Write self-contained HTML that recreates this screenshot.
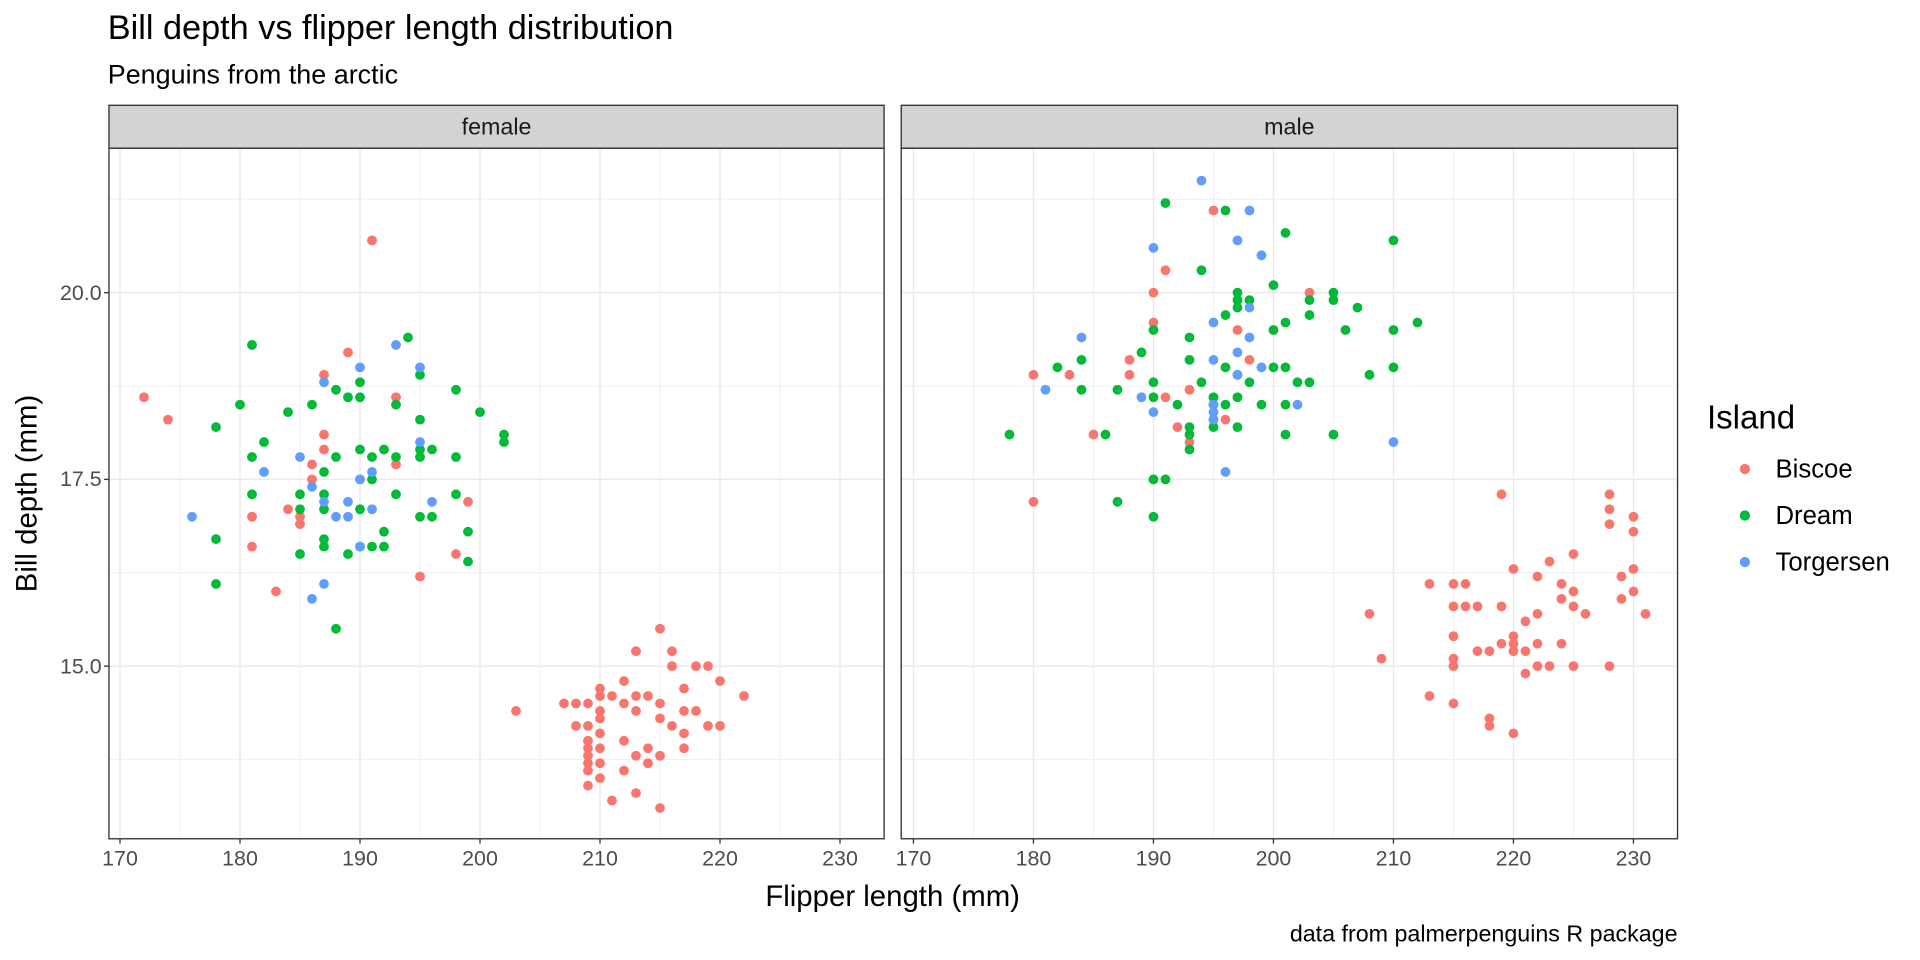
<!DOCTYPE html>
<html><head><meta charset="utf-8"><style>
html,body{margin:0;padding:0;background:#fff;}
svg{display:block;font-family:"Liberation Sans",Arial,sans-serif;}
</style></head><body>
<svg id="s" width="1920" height="960" viewBox="0 0 1568 784" xmlns="http://www.w3.org/2000/svg">
<rect width="1568" height="784" fill="#fff"/>
<text x="88" y="32" font-size="28" fill="#000">Bill depth vs flipper length distribution</text>
<text x="88" y="68" font-size="22" fill="#000">Penguins from the arctic</text>
<g id="g"></g>
<rect x="89" y="86" width="633" height="35" fill="#d3d3d3" stroke="#333" stroke-width="1.1"/>
<rect x="736" y="86" width="634" height="35" fill="#d3d3d3" stroke="#333" stroke-width="1.1"/>
<text x="405.5" y="110" font-size="19" fill="#1a1a1a" text-anchor="middle">female</text>
<text x="1053" y="110" font-size="19" fill="#1a1a1a" text-anchor="middle">male</text>
<g font-size="17.5" fill="#4d4d4d" text-anchor="end">
<text x="83" y="245">20.0</text><text x="83" y="397">17.5</text><text x="83" y="550">15.0</text>
</g>
<text x="729" y="740" font-size="24" fill="#000" text-anchor="middle">Flipper length (mm)</text>
<text transform="translate(30,403) rotate(-90)" font-size="24" fill="#000" text-anchor="middle">Bill depth (mm)</text>
<text x="1370" y="769" font-size="19" fill="#000" text-anchor="end">data from palmerpenguins R package</text>
<text x="1394" y="350" font-size="27" fill="#000">Island</text>
<circle cx="1425" cy="383" r="4.2" fill="#F8766D"/><text x="1450" y="390" font-size="21">Biscoe</text>
<circle cx="1425" cy="421" r="4.2" fill="#00BA38"/><text x="1450" y="428" font-size="21">Dream</text>
<circle cx="1425" cy="459" r="4.2" fill="#619CFF"/><text x="1450" y="466" font-size="21">Torgersen</text>
</svg>
<script>
var NS="http://www.w3.org/2000/svg",g=document.getElementById('g'),svg=document.getElementById('s');
function el(n,a,p){var e=document.createElementNS(NS,n);for(var k in a)e.setAttribute(k,a[k]);(p||g).appendChild(e);return e;}
var panels=[{x0:89,x1:722,o:98},{x0:736,x1:1370,o:746}];
var Y0=121,Y1=685;
function yy(v){return 239+(20-v)*61;}
panels.forEach(function(p){
 for(var v=175;v<=230;v+=10){var x=p.o+(v-170)*9.8;el('line',{x1:x,x2:x,y1:Y0,y2:Y1,stroke:'#ebebeb','stroke-width':0.6});}
 [21.25,18.75,16.25,13.75].forEach(function(v){el('line',{x1:p.x0,x2:p.x1,y1:yy(v),y2:yy(v),stroke:'#ebebeb','stroke-width':0.6});});
 for(var v=170;v<=230;v+=10){var x=p.o+(v-170)*9.8;el('line',{x1:x,x2:x,y1:Y0,y2:Y1,stroke:'#ebebeb','stroke-width':1.2});
  el('line',{x1:x,x2:x,y1:Y1,y2:Y1+4,stroke:'#333','stroke-width':1.1});
  var t=el('text',{x:x,y:Y1+22,'font-size':17.5,fill:'#4d4d4d','text-anchor':'middle'});t.textContent=v;}
 [20,17.5,15].forEach(function(v){el('line',{x1:p.x0,x2:p.x1,y1:yy(v),y2:yy(v),stroke:'#ebebeb','stroke-width':1.2});});
});
[20,17.5,15].forEach(function(v){el('line',{x1:85,x2:89,y1:yy(v),y2:yy(v),stroke:'#333','stroke-width':1.1});});
var C={b:'#F8766D',d:'#00BA38',t:'#619CFF'};
var F={b:[[172,18.6],[174,18.3],[181,17.0],[181,16.6],[183,16.0],[184,17.1],[185,16.9],[185,17.0],[186,17.5],[186,17.7],[187,18.9],[187,18.1],[187,17.9],[189,19.2],[190,17.5],[191,20.7],[193,18.6],[193,17.7],[195,16.2],[198,16.5],[199,17.2],[203,14.4],[207,14.5],[208,14.5],[209,14.5],[209,14.2],[210,14.7],[210,14.6],[210,14.4],[210,14.1],[210,13.9],[210,13.7],[210,13.5],[210,14.3],[209,14.0],[209,13.9],[209,13.8],[209,13.7],[209,13.6],[211,14.6],[211,13.2],[212,14.8],[212,14.5],[212,14.0],[212,13.6],[213,15.2],[213,14.6],[213,13.3],[213,13.8],[214,14.6],[214,13.9],[214,13.7],[215,15.5],[215,14.5],[215,14.3],[215,13.8],[215,13.1],[216,15.2],[216,15.0],[216,14.2],[217,14.7],[217,14.4],[217,14.1],[217,13.9],[218,15.0],[218,14.4],[219,15.0],[219,14.2],[220,14.8],[220,14.2],[222,14.6],[208,14.2],[209,13.4],[213,14.4],[214,13.7]],
d:[[178,18.2],[178,16.7],[178,16.1],[180,18.5],[181,19.3],[181,17.8],[181,17.3],[182,18.0],[184,18.4],[185,17.3],[185,17.1],[185,16.5],[186,18.5],[187,17.6],[187,17.3],[187,17.1],[187,16.7],[187,16.6],[188,18.7],[188,17.8],[188,15.5],[189,18.6],[189,16.5],[190,18.6],[190,18.8],[190,17.9],[190,17.1],[190,16.6],[191,17.8],[191,17.5],[191,16.6],[192,17.9],[192,16.6],[192,16.8],[193,18.5],[193,17.8],[193,17.3],[194,19.4],[195,18.9],[195,18.3],[195,17.8],[195,17.9],[195,17.0],[196,17.9],[196,17.0],[198,18.7],[198,17.8],[198,17.3],[199,16.8],[199,16.4],[200,18.4],[202,18.1],[202,18.0]],
t:[[176,17.0],[182,17.6],[185,17.8],[186,15.9],[187,18.8],[187,17.2],[187,16.1],[188,17.0],[189,17.2],[189,17.0],[190,19.0],[190,17.5],[190,16.6],[191,17.6],[191,17.1],[193,19.3],[195,19.0],[195,18.0],[196,17.2],[186,17.4]]};
var M={b:[[180,18.9],[180,17.2],[183,18.9],[185,18.1],[188,18.9],[188,19.1],[190,20.0],[190,19.6],[191,20.3],[191,18.6],[192,18.2],[193,18.0],[193,18.7],[195,21.1],[196,18.3],[197,19.5],[198,19.1],[200,19.5],[203,20.0],[208,15.7],[209,15.1],[213,16.1],[213,14.6],[215,16.1],[215,15.8],[215,15.4],[215,15.1],[215,15.0],[215,14.5],[216,16.1],[216,15.8],[217,15.8],[217,15.2],[218,14.3],[218,14.2],[218,15.2],[219,17.3],[219,15.8],[219,15.3],[220,16.3],[220,15.4],[220,15.2],[220,14.1],[220,15.3],[221,15.6],[221,14.9],[221,15.2],[222,16.2],[222,15.7],[222,15.3],[222,15.0],[223,16.4],[223,15.0],[224,16.1],[224,15.9],[224,15.3],[225,16.5],[225,16.0],[225,15.8],[225,15.0],[226,15.7],[228,17.3],[228,17.1],[228,16.9],[228,15.0],[229,16.2],[229,15.9],[230,17.0],[230,16.8],[230,16.3],[230,16.0],[231,15.7]],
d:[[178,18.1],[182,19.0],[184,19.1],[184,18.7],[186,18.1],[187,18.7],[187,17.2],[189,19.2],[190,19.5],[190,18.8],[190,18.6],[190,17.5],[190,17.0],[191,21.2],[191,17.5],[192,18.5],[193,19.4],[193,19.1],[193,18.2],[193,18.1],[193,17.9],[194,20.3],[194,18.8],[195,18.6],[195,18.5],[195,18.3],[195,18.2],[196,21.1],[196,19.7],[196,19.0],[196,18.5],[197,19.8],[197,20.0],[197,19.9],[197,18.9],[197,18.6],[197,18.2],[198,19.9],[198,18.8],[199,18.5],[200,20.1],[200,19.5],[200,19.0],[201,20.8],[201,19.6],[201,19.0],[201,18.5],[201,18.1],[202,18.8],[203,19.9],[203,19.7],[203,18.8],[205,20.0],[205,19.9],[205,18.1],[206,19.5],[207,19.8],[208,18.9],[210,20.7],[210,19.5],[210,19.0],[212,19.6]],
t:[[181,18.7],[184,19.4],[189,18.6],[190,20.6],[190,18.4],[194,21.5],[195,19.6],[195,19.1],[195,18.5],[195,18.4],[195,18.3],[196,17.6],[197,20.7],[197,19.2],[197,18.9],[198,21.1],[198,19.4],[198,19.8],[199,20.5],[199,19.0],[202,18.5],[210,18.0]]};
[F,M].forEach(function(D,i){var p=panels[i];['b','d','t'].forEach(function(k){D[k].forEach(function(q){el('circle',{cx:p.o+(q[0]-170)*9.8,cy:yy(q[1]),r:4,fill:C[k]});});});});
panels.forEach(function(p){el('rect',{x:p.x0,y:Y0,width:p.x1-p.x0,height:Y1-Y0,fill:'none',stroke:'#333','stroke-width':1.1});});
</script>
</body></html>
